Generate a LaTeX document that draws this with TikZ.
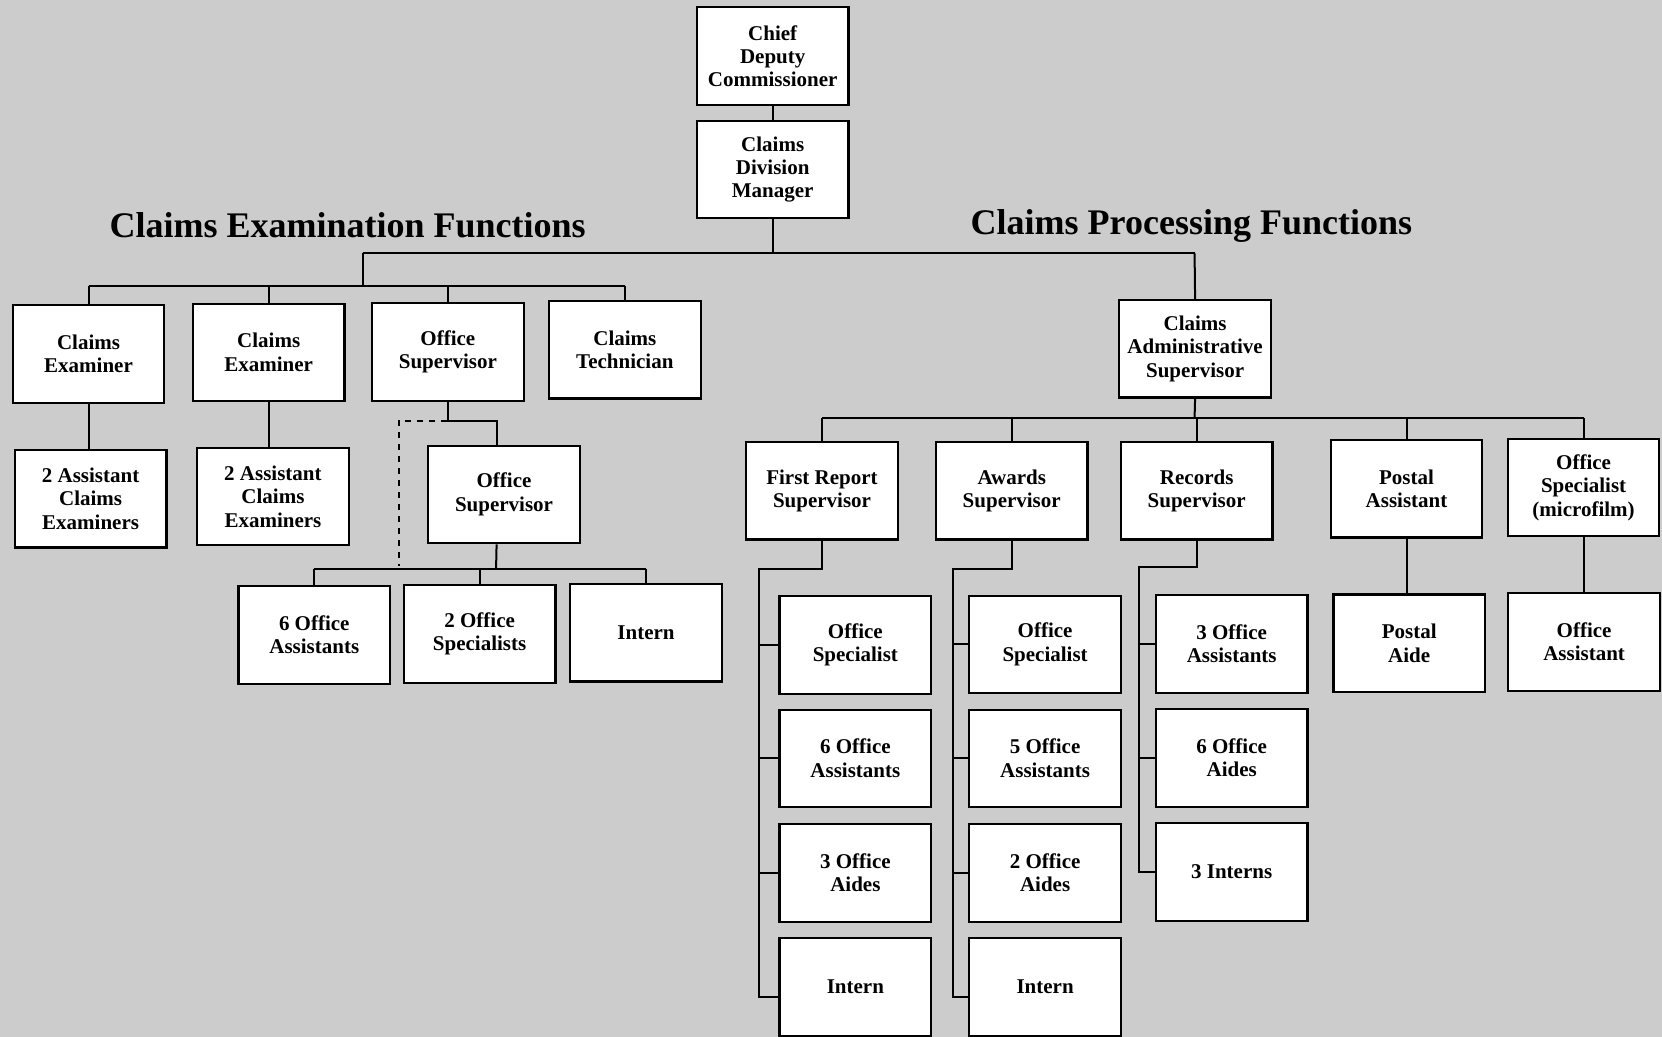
\documentclass[tikz,border=0pt]{standalone}
\usepackage{fontspec}
\setmainfont{Liberation Serif}
\usetikzlibrary{calc}

\tikzset{
  box/.style={draw, fill=white, line width=1.1pt, minimum width=75.8pt, minimum height=48.8pt,
    inner sep=1pt, align=center, font=\bfseries\fontsize{10.5}{11.7}\selectfont},
  link/.style={line width=1pt},
  heading/.style={anchor=base, font=\bfseries\fontsize{18}{20}\selectfont}
}

\begin{document}
\begin{tikzpicture}[x=0.53pt,y=-0.53pt]
\fill[black!20] (0,0) rectangle (1568,978);
\useasboundingbox (0,0) rectangle (1568,978);

% top of the chart
\node[box] (chief) at (729,53) {Chief\\Deputy\\Commissioner};
\node[box] (cdm) at (729,160) {Claims\\Division\\Manager};
\node[heading] (exam) at (328,224) {Claims Examination Functions};
\node[heading] (proc) at (1124,221.5) {Claims Processing Functions};
\draw[link] (chief) -- (cdm);
\coordinate (lb) at (342,239);
\coordinate (rb) at (1127,239);
\draw[link] (cdm.south) -- (cdm.south |- lb);
\draw[link] (lb) -- (rb);

% claims examination
\node[box] (ce1) at (83.5,334) {Claims\\Examiner};
\node[box] (ce2) at (253.5,332.5) {Claims\\Examiner};
\node[box] (os1) at (422.5,332) {Office\\Supervisor};
\node[box] (ct) at (589.5,330) {Claims\\Technician};
\coordinate (lbar) at (342,270);
\draw[link] (lb) -- (lbar);
\draw[link] (ce1.north |- lbar) -- (ct.north |- lbar);
\foreach \n in {ce1,ce2,os1,ct} { \draw[link] (\n.north |- lbar) -- (\n.north); }
\node[box] (ace1) at (85.5,470.5) {2 Assistant\\Claims\\Examiners};
\node[box] (ace2) at (257.5,468.5) {2 Assistant\\Claims\\Examiners};
\draw[link] (ce1) -- (ce1 |- ace1.north);
\draw[link] (ce2) -- (ce2 |- ace2.north);
\node[box] (os2) at (475.5,466.5) {Office\\Supervisor};
\coordinate (obar) at (422,397);
\coordinate (dsh) at (376,534);
\draw[link] (os1.south) |- ($(os2.north |- obar)+(-7,0)$) -- ($(os2.north)+(-7,0)$);
\draw[link,dashed] (obar) -| (dsh);
\node[box] (oa6) at (296.5,599) {6 Office\\Assistants};
\node[box] (osp2) at (452.5,598) {2 Office\\Specialists};
\node[box] (int1) at (609.5,597) {Intern};
\coordinate (sbar) at (468,537);
\draw[link] ($(os2.south)+(-7,0)$) -- (sbar);
\draw[link] (oa6.north |- sbar) -- (int1.north |- sbar);
\foreach \n in {oa6,osp2,int1} { \draw[link] (\n.north |- sbar) -- (\n.north); }

% claims processing
\node[box] (cas) at (1127.5,329) {Claims\\Administrative\\Supervisor};
\draw[link] (rb) -- (cas.north);
\node[box] (frs) at (775.5,463) {First Report\\Supervisor};
\node[box] (aws) at (954.5,463) {Awards\\Supervisor};
\node[box] (rs) at (1129,463) {Records\\Supervisor};
\node[box] (pa) at (1327,461) {Postal\\Assistant};
\node[box] (osm) at (1494,460) {Office\\Specialist\\(microfilm)};
\coordinate (rbar) at (1127,394);
\draw[link] (cas.south) -- (rbar);
\draw[link] (frs.north |- rbar) -- (osm.north |- rbar);
\foreach \n in {frs,aws,rs,pa,osm} { \draw[link] (\n.north |- rbar) -- (\n.north); }

% staff under the supervisors
\foreach \y/\t [count=\i] in {608.5/{Office\\Specialist}, 715.5/{6 Office\\Assistants},
    823.5/{3 Office\\Aides}, 931/{Intern}} { \node[box] (fr\i) at (807,\y) {\t}; }
\foreach \y/\t [count=\i] in {608/{Office\\Specialist}, 715.5/{5 Office\\Assistants},
    823.5/{2 Office\\Aides}, 931/{Intern}} { \node[box] (aw\i) at (986,\y) {\t}; }
\foreach \y/\t [count=\i] in {607.5/{3 Office\\Assistants}, 715/{6 Office\\Aides},
    822.5/{3 Interns}} { \node[box] (rc\i) at (1162,\y) {\t}; }
\coordinate (fsp) at (716,537);
\coordinate (asp) at (899,537);
\coordinate (rsp) at (1075,535);
\draw[link] (frs.south) |- (fsp) |- ($(fr4.west)+(0,10)$);
\draw[link] (aws.south) |- (asp) |- ($(aw4.west)+(0,10)$);
\draw[link] (rs.south) |- (rsp) |- (rc3.west);
\foreach \i in {1,2,3} {
  \draw[link] (fsp |- fr\i.west) -- (fr\i.west);
  \draw[link] (asp |- aw\i.west) -- (aw\i.west);
}
\foreach \i in {1,2} { \draw[link] (rsp |- rc\i.west) -- (rc\i.west); }
\node[box] (paide) at (1329.5,607) {Postal\\Aide};
\node[box] (oas) at (1494.5,605.5) {Office\\Assistant};
\draw[link] (pa) -- (pa |- paide.north);
\draw[link] (osm) -- (osm |- oas.north);
\end{tikzpicture}
\end{document}
